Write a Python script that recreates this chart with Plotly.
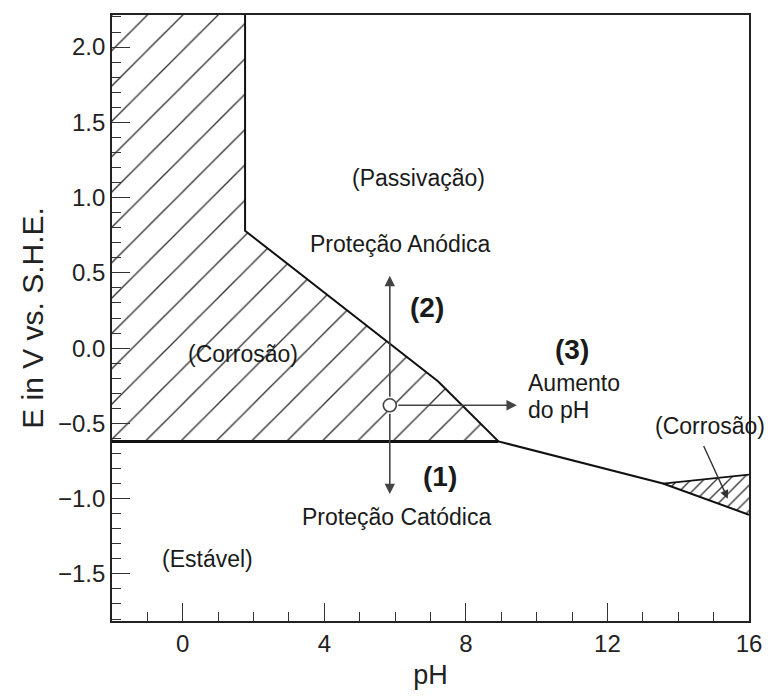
import plotly.graph_objects as go

# --- data ---
# main boundary line (Fe / passive film)
boundary_ph = [1.76, 1.76, 7.21, 8.92, 13.57, 16.0]
boundary_E = [2.213, 0.78, -0.22, -0.62, -0.90, -1.107]
# horizontal Fe / Fe2+ line
fe_line_ph = [-2.0, 8.92]
fe_line_E = [-0.62, -0.62]
# upper edge of alkaline corrosion triangle
tri_top_ph = [13.57, 16.0]
tri_top_E = [-0.90, -0.84]
# hatched corrosion regions
corr1_ph = [-2.0, 1.76, 1.76, 7.21, 8.92, -2.0]
corr1_E = [2.213, 2.213, 0.78, -0.22, -0.62, -0.62]
corr2_ph = [13.57, 16.0, 16.0]
corr2_E = [-0.90, -0.84, -1.107]
# operating point and arrows
point_ph = [5.85]
point_E = [-0.38]
arrow_up_E = 0.48
arrow_down_E = -0.97
arrow_right_ph = 9.44

labels = [
    ("(Passivação)", 6.65, 1.13, False, 23),
    ("Proteção Anódica", 6.15, 0.69, False, 23),
    ("(2)", 6.9, 0.27, True, 28),
    ("(Corrosão)", 1.7, -0.04, False, 23),
    ("(3)", 11.0, -0.01, True, 28),
    ("(1)", 7.27, -0.85, True, 28),
    ("Proteção Catódica", 6.05, -1.12, False, 23),
    ("(Estável)", 0.71, -1.40, False, 23),
    ("(Corrosão)", 14.9, -0.52, False, 23),
]

xr = [-2.0, 16.0]
yr = [-1.813, 2.213]
FONT = "Liberation Sans, Arial"

fig = go.Figure()

pattern_big = dict(shape="/", size=25, solidity=0.055, fgcolor="#333333",
                   bgcolor="rgba(0,0,0,0)", fillmode="replace")
pattern_small = dict(shape="/", size=9, solidity=0.15, fgcolor="#333333",
                     bgcolor="rgba(0,0,0,0)", fillmode="replace")

fig.add_trace(go.Scatter(x=corr1_ph, y=corr1_E, fill="toself", mode="none",
                         fillcolor="rgba(0,0,0,0)", fillpattern=pattern_big,
                         hoverinfo="skip", showlegend=False))
fig.add_trace(go.Scatter(x=corr2_ph, y=corr2_E, fill="toself", mode="none",
                         fillcolor="rgba(0,0,0,0)", fillpattern=pattern_small,
                         hoverinfo="skip", showlegend=False))

fig.add_trace(go.Scatter(x=boundary_ph, y=boundary_E, mode="lines",
                         line=dict(color="#111111", width=2), showlegend=False))
fig.add_trace(go.Scatter(x=fe_line_ph, y=fe_line_E, mode="lines",
                         line=dict(color="#111111", width=3), showlegend=False))
fig.add_trace(go.Scatter(x=tri_top_ph, y=tri_top_E, mode="lines",
                         line=dict(color="#111111", width=1.8), showlegend=False))

arrow_style = dict(showarrow=True, arrowhead=2, arrowsize=1.3, arrowwidth=1.6,
                   arrowcolor="#444444", axref="x", ayref="y", text="",
                   startstandoff=7)
fig.add_annotation(x=point_ph[0], y=arrow_up_E, ax=point_ph[0], ay=point_E[0], **arrow_style)
fig.add_annotation(x=point_ph[0], y=arrow_down_E, ax=point_ph[0], ay=point_E[0], **arrow_style)
fig.add_annotation(x=arrow_right_ph, y=point_E[0], ax=point_ph[0], ay=point_E[0], **arrow_style)
# pointer to the alkaline corrosion triangle
fig.add_annotation(x=15.4, y=-1.0, ax=14.7, ay=-0.64, showarrow=True, arrowhead=2,
                   arrowsize=1.2, arrowwidth=1.4, arrowcolor="#333333",
                   axref="x", ayref="y", text="")

fig.add_trace(go.Scatter(x=point_ph, y=point_E, mode="markers",
                         marker=dict(symbol="circle", size=13, color="white",
                                     line=dict(color="#444444", width=1.6)),
                         showlegend=False, cliponaxis=False))

for txt, px, py, bold, fs in labels:
    fig.add_annotation(x=px, y=py, text=f"<b>{txt}</b>" if bold else txt,
                       showarrow=False,
                       font=dict(family=FONT, size=fs, color="#1a1a1a"))

fig.add_annotation(x=9.69, y=-0.233, text="Aumento", showarrow=False, xanchor="left",
                   font=dict(family=FONT, size=23, color="#1a1a1a"))
fig.add_annotation(x=9.69, y=-0.41, text="do pH", showarrow=False, xanchor="left",
                   font=dict(family=FONT, size=23, color="#1a1a1a"))

axis_common = dict(showline=True, linecolor="#222222", linewidth=1.6, mirror=True,
                   ticks="inside", ticklen=18, tickwidth=1.4, tickcolor="#333333",
                   showgrid=False, zeroline=False, automargin=False,
                   tickfont=dict(family=FONT, size=24, color="#222222"))

fig.update_xaxes(range=xr, tick0=0, dtick=4,
                 minor=dict(dtick=1, ticks="inside", ticklen=9, tickwidth=1.3, tickcolor="#333333"),
                 title=dict(text="pH", font=dict(family=FONT, size=27, color="#222222"),
                            standoff=10),
                 **axis_common)
fig.update_yaxes(range=yr, tick0=0, dtick=0.5, tickformat=".1f",
                 minor=dict(dtick=0.1, ticks="inside", ticklen=9, tickwidth=1.3, tickcolor="#333333"),
                 title=dict(text="E in V vs. S.H.E.", font=dict(family=FONT, size=30, color="#222222"),
                            standoff=6),
                 **axis_common)

fig.update_layout(width=777, height=696, margin=dict(l=112, r=28, t=15, b=75),
                  plot_bgcolor="white", paper_bgcolor="white", showlegend=False)

fig.write_html("out.html")
